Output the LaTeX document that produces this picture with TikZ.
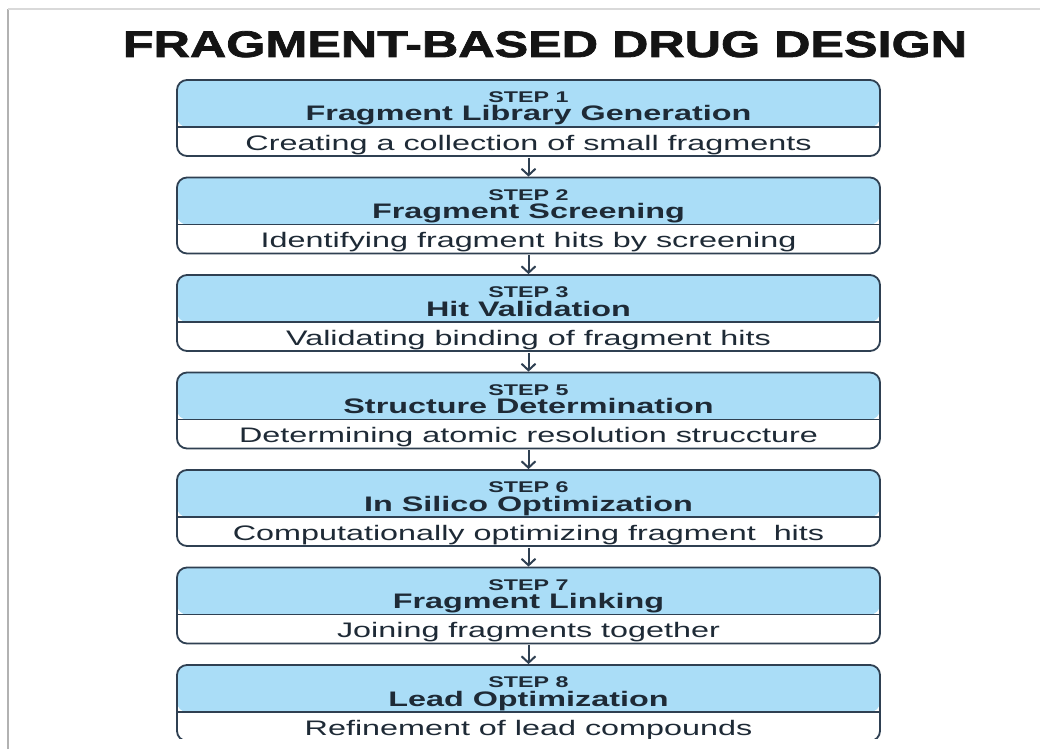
\documentclass[tikz,border=0pt]{standalone}
\usepackage{fontspec}
\setmainfont{Liberation Sans}
\newfontfamily\wfont[FakeStretch=1.54]{Liberation Sans}
\newfontfamily\sfontw[FakeStretch=1.5]{Liberation Sans}
\newfontfamily\tfont[FakeStretch=1.36,FakeBold=2]{Liberation Sans}
\usetikzlibrary{arrows.meta}
\definecolor{boxblue}{HTML}{AADDF7}
\definecolor{edgecol}{HTML}{2F4052}
\definecolor{txtcol}{HTML}{1E2A36}
\definecolor{titlecol}{HTML}{141414}
\tikzset{
  stepbox/.style={draw=edgecol, line width=1.8pt, rounded corners=10pt,
    minimum width=703pt, minimum height=76pt, inner sep=0pt,
    path picture={
      \fill[boxblue] (path picture bounding box.north west) rectangle ([yshift=-47pt]path picture bounding box.north east);
      \draw[edgecol, line width=1.2pt] ([yshift=-47pt]path picture bounding box.north west) -- ([yshift=-47pt]path picture bounding box.north east);
    }},
  steplbl/.style={anchor=base, inner sep=0pt, text=txtcol, font=\sfontw\bfseries\fontsize{15.5}{17}\selectfont},
  namelbl/.style={anchor=base, inner sep=0pt, text=txtcol, font=\wfont\bfseries\fontsize{21}{23}\selectfont},
  desclbl/.style={anchor=base, inner sep=0pt, text=txtcol, font=\wfont\fontsize{21}{23}\selectfont},
  arr/.style={draw=edgecol, line width=2pt, shorten <=1pt, -{Straight Barb[length=6.5pt,width=14pt,line width=2pt]}},
}
\begin{document}
\begin{tikzpicture}[x=1pt,y=-1pt]
\useasboundingbox (0,0) rectangle (1040,749);
\fill[white] (0,0) rectangle (1040,749);
\draw[color=black!30, line width=2.5pt] (8,749) -- (8,9);
\draw[color=black!15, line width=1.5pt] (8,9) -- (1040,9);
\node[anchor=base, inner sep=0pt, text=titlecol, font=\tfont\bfseries\fontsize{37}{40}\selectfont] (title) at (545,57) {FRAGMENT-BASED DRUG DESIGN};
\begin{scope}
\clip (0,0) rectangle (1040,738);
\foreach \i/\t/\s/\n/\d in {
  1/80/STEP 1/Fragment Library Generation/Creating a collection of small fragments,
  2/177.5/STEP 2/Fragment Screening/Identifying fragment hits by screening,
  3/275/STEP 3/Hit Validation/Validating binding of fragment hits,
  4/372.5/STEP 5/Structure Determination/Determining atomic resolution struccture,
  5/470/STEP 6/In Silico Optimization/Computationally optimizing fragment\ \ hits,
  6/567.5/STEP 7/Fragment Linking/Joining fragments together,
  7/665/STEP 8/Lead Optimization/Refinement of lead compounds}{
  \node[stepbox] (b\i) at (528.5,\t+38) {};
  \node[steplbl] (s\i) at (528.5,\t+22.5) {\s};
  \node[namelbl] (n\i) at (528.5,\t+41) {\n};
  \node[desclbl] (d\i) at (528.5,\t+70) {\d};
}
\end{scope}
\foreach \i [evaluate=\i as \j using int(\i+1)] in {1,...,6}
  \draw[arr] (b\i.south) -- (b\j.north);
\end{tikzpicture}
\end{document}
